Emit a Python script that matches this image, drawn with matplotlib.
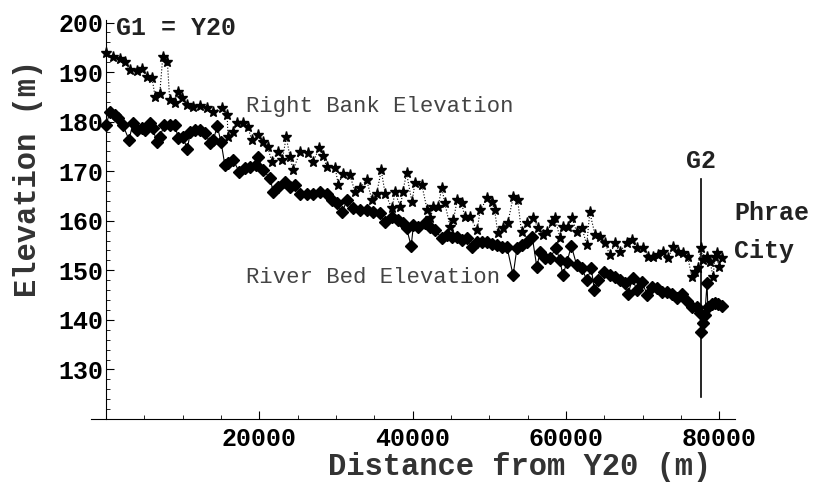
import matplotlib
matplotlib.use("Agg")
import matplotlib.pyplot as plt
from matplotlib.ticker import MultipleLocator

# right bank elevation (stars)
bank_dist = [0, 900, 1800, 2500, 3100, 4000, 4700, 5300, 6000, 6400, 7000, 7400,
             8000, 8300, 9000, 9400, 9900, 10600, 11400, 12300, 13200, 14000, 15100,
             15800, 15900, 16600, 17100, 17900, 18500, 19000, 19800, 20500, 21100,
             21600, 22400, 23000, 23500, 24000, 24400, 25300, 26400, 27000, 27800,
             28300, 28800, 29900, 30300, 30900, 31800, 32500, 33100, 34000, 34700,
             35300, 35900, 36400, 37300, 37700, 38400, 38700, 39200, 39900, 40300,
             41200, 41900, 42300, 42700, 43300, 43800, 44200, 44900, 45300, 45800,
             46400, 46800, 47500, 48400, 48800, 49700, 50300, 50700, 51100, 51800,
             52400, 53100, 53700, 54200, 54900, 55700, 56400, 57000, 57500, 58200,
             58600, 59200, 59600, 60300, 60800, 61400, 62100, 62700, 63100, 63800,
             64400, 65100, 65700, 66400, 67000, 67900, 68600, 69200, 70000, 70700,
             71400, 72000, 72700, 73300, 74000, 74600, 75300, 75900, 76400, 76800,
             77200, 77600, 77900, 78400, 78800, 79200, 79400, 79700, 79900, 80300]
bank_elev = [193.9, 193.1, 192.6, 192.0, 190.4, 190.2, 190.6, 189.0, 188.8, 185.0,
             185.6, 193.1, 192.1, 184.4, 183.8, 186.0, 184.8, 183.4, 183.0, 183.2,
             182.8, 182.0, 182.8, 181.4, 177.0, 178.0, 179.7, 179.7, 178.9, 176.3,
             177.3, 175.9, 174.9, 171.9, 173.9, 172.3, 176.9, 172.9, 170.2, 173.9,
             173.6, 171.8, 174.7, 173.0, 170.9, 170.6, 167.2, 169.5, 169.2, 165.8,
             166.6, 168.2, 164.1, 165.5, 170.2, 165.5, 162.5, 165.8, 162.7, 165.8,
             169.6, 163.8, 167.6, 167.2, 162.1, 160.5, 162.8, 162.8, 166.6, 163.5,
             158.7, 160.1, 164.1, 163.5, 160.7, 160.7, 158.1, 162.1, 164.5, 163.8,
             162.1, 157.5, 158.5, 159.5, 164.7, 164.1, 157.7, 159.5, 160.5, 158.5,
             157.1, 157.7, 159.7, 160.5, 156.5, 158.7, 158.7, 160.5, 157.7, 158.5,
             155.1, 161.7, 157.1, 156.7, 155.5, 153.1, 155.5, 153.7, 155.5, 156.1,
             154.5, 154.5, 152.7, 152.7, 153.1, 153.7, 152.5, 154.7, 153.7, 153.4,
             152.7, 148.6, 149.6, 150.4, 154.5, 152.1, 152.7, 151.7, 148.6, 152.7,
             153.5, 150.7, 152.5]

# river bed elevation (diamonds)
bed_dist = [0, 500, 1200, 1600, 2200, 3000, 3500, 4000, 4700, 5100, 5700, 6100,
            6600, 7000, 7600, 8300, 9000, 9400, 10000, 10600, 11000, 11600, 12300,
            12900, 13600, 14000, 14500, 15000, 15500, 15900, 16600, 17400, 18100,
            18800, 19500, 19800, 20500, 21400, 21800, 22400, 23300, 24000, 24700,
            25300, 26200, 27000, 27900, 28800, 29500, 30100, 30800, 31400, 32200,
            33100, 34000, 34800, 35700, 36400, 37300, 38100, 38700, 39200, 39800,
            40100, 40700, 41600, 42300, 42900, 43800, 44500, 45100, 45800, 46400,
            47100, 47700, 48400, 49000, 49700, 50300, 51000, 51700, 52300, 53100,
            53600, 54200, 54900, 55600, 56200, 56600, 57300, 57900, 58700, 59200,
            59600, 60100, 60700, 61400, 62100, 62700, 63300, 63700, 64200, 64900,
            65700, 66400, 67100, 67700, 68100, 68700, 69200, 69900, 70600, 71200,
            71900, 72500, 73200, 73800, 74500, 75100, 75800, 76400, 77100, 77500,
            77600, 77900, 78100, 78400, 78500, 79000, 79400, 79800, 80300]
bed_elev = [179.3, 182.0, 181.3, 180.7, 179.3, 176.3, 179.7, 178.3, 178.7, 178.3,
            179.7, 178.7, 175.9, 176.9, 179.3, 179.3, 179.3, 176.7, 176.9, 174.5,
            177.9, 178.3, 178.3, 177.7, 175.7, 176.3, 179.1, 175.9, 171.2, 171.6,
            172.2, 169.8, 170.6, 170.8, 171.2, 172.8, 170.2, 168.6, 165.8, 166.8,
            167.8, 166.8, 167.2, 165.5, 165.3, 165.5, 165.8, 165.5, 164.1, 163.5,
            161.7, 164.1, 162.5, 162.1, 162.1, 161.7, 161.5, 159.7, 160.7, 160.1,
            159.5, 158.5, 154.9, 159.1, 158.7, 159.5, 158.7, 158.1, 156.5, 157.1,
            156.7, 156.7, 156.1, 156.5, 154.7, 155.7, 155.7, 155.7, 155.4, 155.1,
            154.7, 154.7, 149.0, 154.5, 155.1, 155.7, 156.7, 150.6, 153.7, 152.5,
            152.5, 154.5, 152.0, 149.0, 151.6, 154.9, 151.0, 150.4, 148.0, 150.4,
            146.0, 148.0, 149.6, 149.0, 148.6, 148.0, 147.4, 145.3, 148.4, 146.0,
            147.6, 145.1, 146.7, 146.4, 145.7, 145.7, 145.3, 144.5, 145.3, 143.9,
            142.7, 142.5, 141.3, 137.5, 139.3, 140.9, 147.4, 142.5, 143.3, 143.5,
            143.3, 142.9]

x_ticks = [20000, 40000, 60000, 80000]
y_ticks = [130, 140, 150, 160, 170, 180, 190, 200]

font = "Liberation Mono"

fig = plt.figure(figsize=(8.13, 4.83), dpi=100)
ax = fig.add_axes([0.1116, 0.1325, 0.7925, 0.826])

ax.plot(bank_dist, bank_elev, color="black", linestyle=":", linewidth=0.8,
        marker="*", markersize=8, clip_on=False)
ax.plot(bed_dist, bed_elev, color="black", linestyle="-", linewidth=0.8,
        marker="D", markersize=6, clip_on=False)

# G2 gauge line
ax.plot([77600, 77600], [124.5, 168.5], color="black", linewidth=1.2)

ax.set_xlim(-2000, 82050)
ax.set_ylim(120, 200.5)

ax.spines["left"].set_position(("data", 0))
ax.spines["top"].set_visible(False)
ax.spines["right"].set_visible(False)

ax.set_xticks(x_ticks)
ax.set_yticks(y_ticks)
ax.xaxis.set_minor_locator(MultipleLocator(5000))
ax.yaxis.set_minor_locator(MultipleLocator(2))
ax.tick_params(which="major", direction="in", length=6, width=0.8, pad=6)
ax.tick_params(which="minor", direction="in", length=3, width=0.6)
ax.tick_params(axis="y", pad=2)
for lab in ax.get_xticklabels() + ax.get_yticklabels():
    lab.set_fontfamily(font)
    lab.set_fontweight("bold")
    lab.set_fontsize(18)

ax.text(1300, 198.9, "G1 = Y20", family=font, weight="bold", fontsize=18,
        va="center", ha="left", color="#222222", clip_on=False)
ax.text(77600, 172, "G2", family=font, weight="bold", fontsize=18,
        va="center", ha="center", color="#222222")
ax.text(81900, 161.5, "Phrae", family=font, weight="bold", fontsize=18,
        va="center", ha="left", color="#222222", clip_on=False)
ax.text(81900, 153.9, "City", family=font, weight="bold", fontsize=18,
        va="center", ha="left", color="#222222", clip_on=False)
ax.text(18260, 183, "Right Bank Elevation", family=font, fontsize=16,
        va="center", ha="left", color="#444444")
ax.text(18260, 148.6, "River Bed Elevation", family=font, fontsize=16,
        va="center", ha="left", color="#444444")

fig.text(28 / 813, 1 - 178 / 483, "Elevation (m)", family=font, weight="bold",
         fontsize=22, rotation=90, va="center", ha="center", color="#333333")
fig.text(520 / 813, 1 - 467 / 483, "Distance from Y20 (m)", family=font,
         weight="bold", fontsize=22, va="center", ha="center", color="#333333")

fig.savefig("out.png", dpi=100)
